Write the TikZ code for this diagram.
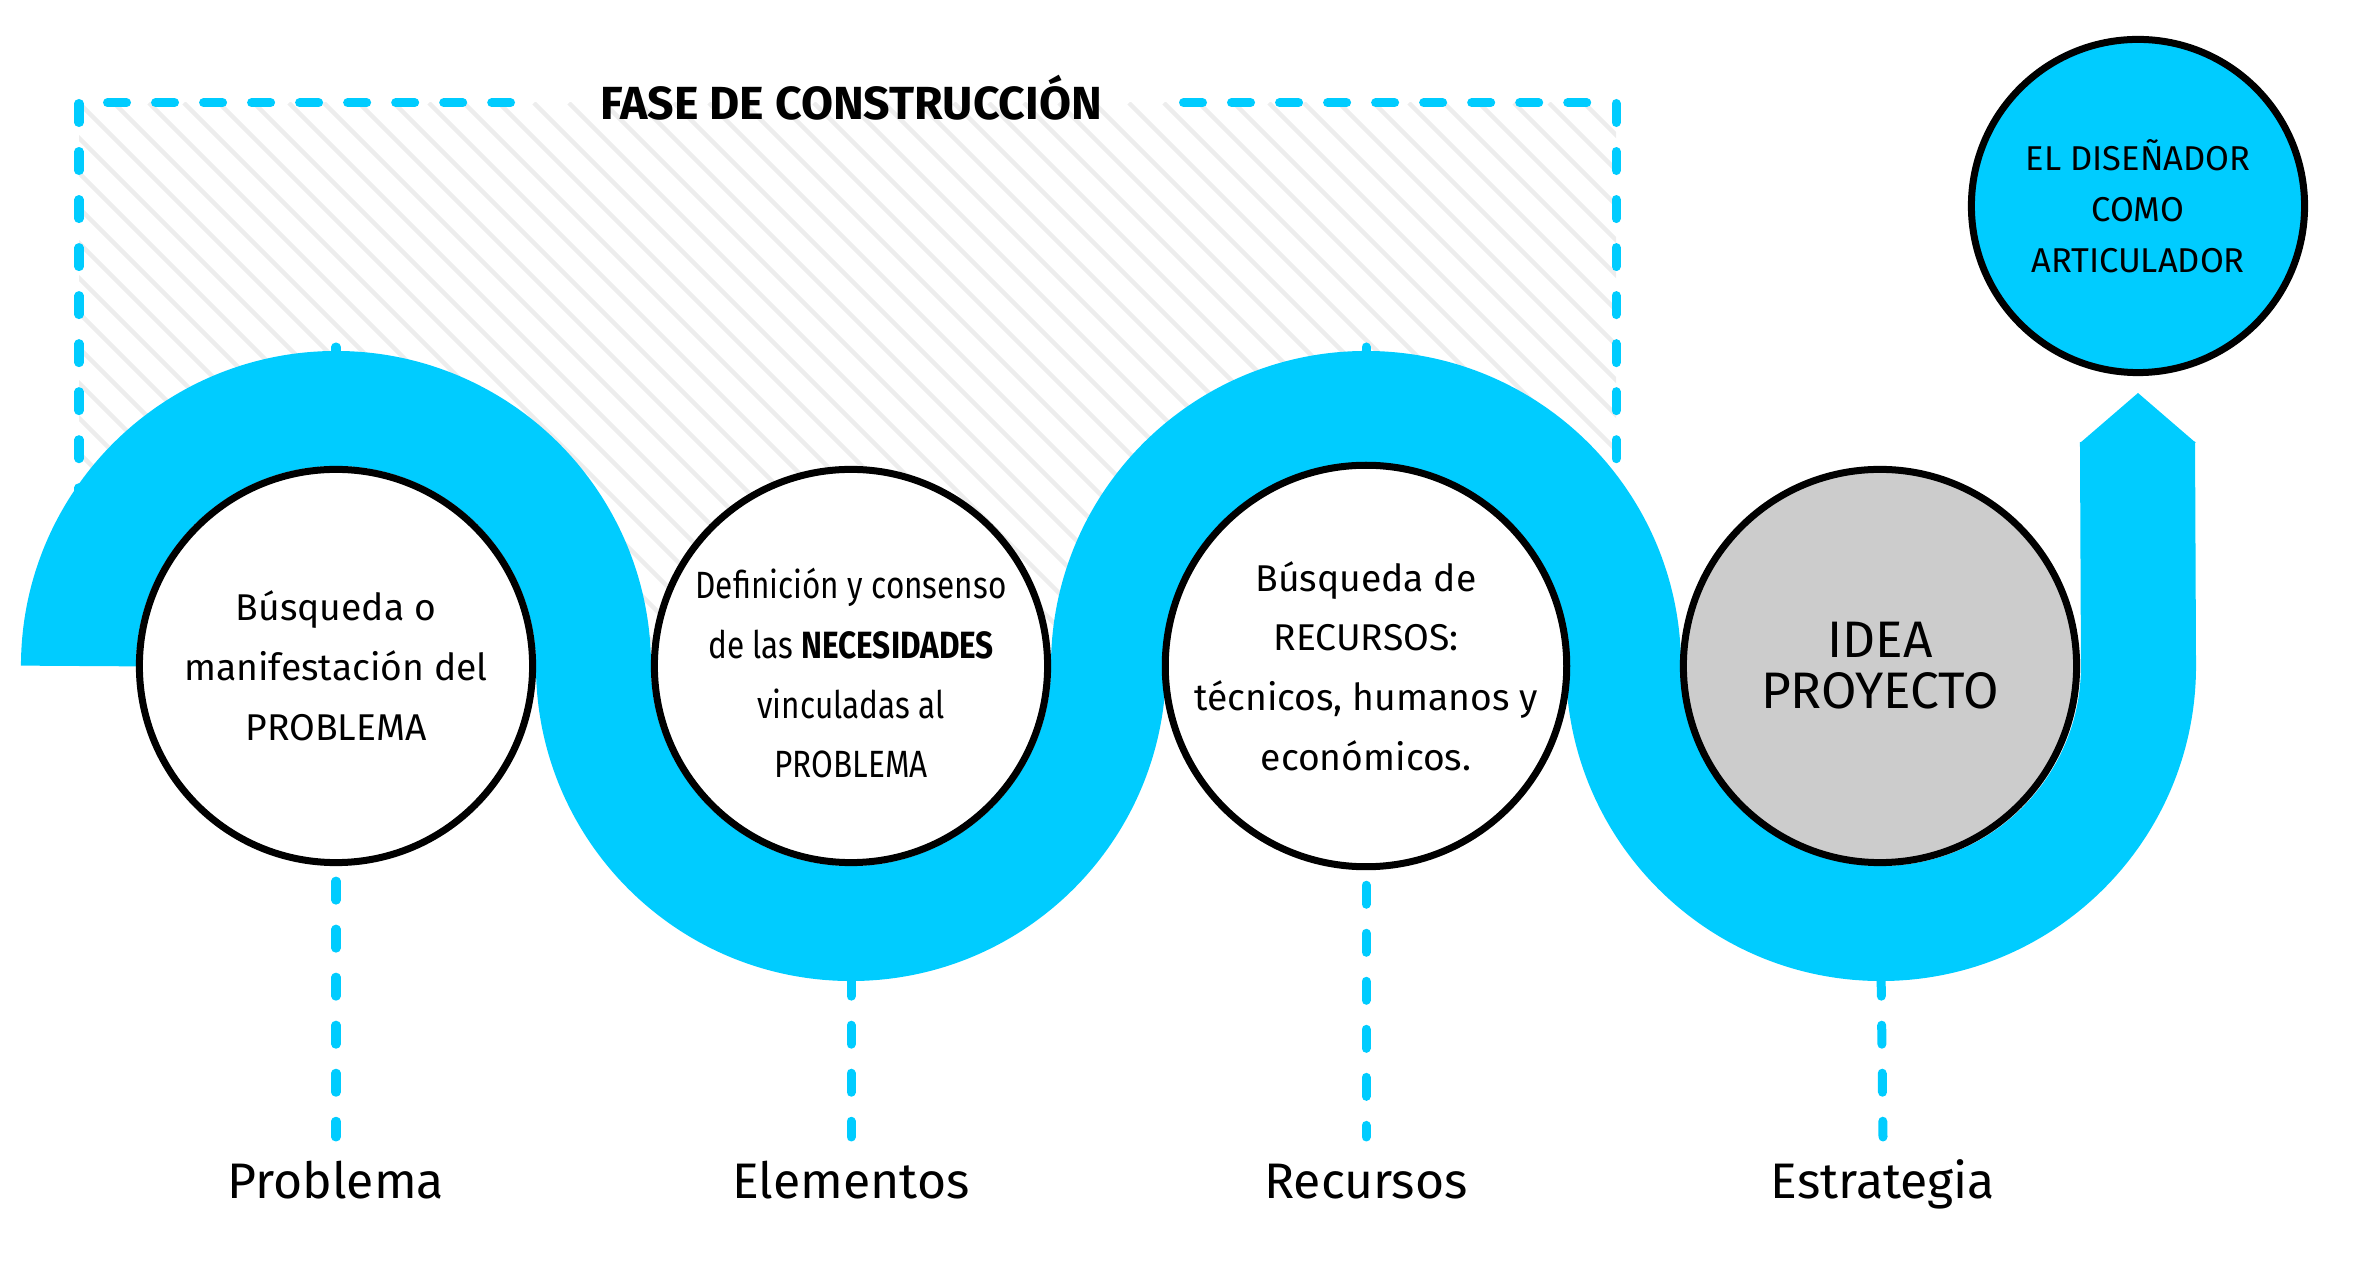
\documentclass[tikz,border=0pt]{standalone}
\usepackage{fontspec}
\setmainfont{Fira Sans}
\newfontfamily\narrowfont{Fira Sans}[FakeStretch=0.83]
\usepackage{tikz}
\usetikzlibrary{positioning,calc,backgrounds}
\definecolor{bandcyan}{HTML}{00CCFF}
\definecolor{ideagray}{HTML}{CCCCCC}
\definecolor{hatchgray}{HTML}{EDEDED}
\tikzset{
    every picture/.style={line join=round},
    stagecircle/.style={circle,draw=black,fill=white,line width=0.07cm,
      minimum size=3.93cm,inner sep=0pt,align=center,
      font=\fontsize{10.6}{17}\selectfont},
    dashline/.style={draw=bandcyan,line width=0.09cm,line cap=round,
      dash pattern=on 0.19cm off 0.29cm},
    bandline/.style={draw=bandcyan,line width=1.15cm,line cap=butt},
    hatchline/.style={draw=hatchgray,line width=0.045cm},
    steplabel/.style={anchor=base,font=\fontsize{14.2}{16}\selectfont}
}

\begin{document}
\begin{tikzpicture}[x=0.01cm,y=0.01cm]
  \useasboundingbox (0,0) rectangle (2362,1272);
  % stages along the band
  \node[stagecircle] (s1) at (336,606) {Búsqueda o\\manifestación del\\PROBLEMA};
  \node[stagecircle,font=\narrowfont\fontsize{10.8}{17}\selectfont] (s2) at (851,606)
    {\rule{0pt}{0.45cm}Definición y consenso\\de las \textbf{NECESIDADES}\\vinculadas al\\PROBLEMA};
  \node[stagecircle] (s3) at (1366,606) {Búsqueda de\\RECURSOS:\\técnicos, humanos y\\económicos.};
  \node[stagecircle,fill=ideagray,font=\fontsize{14.6}{14.5}\selectfont] (s4) at (1880,606)
    {IDEA\\PROYECTO};
  \node[stagecircle,fill=bandcyan,minimum size=3.33cm,
    font=\fontsize{9.8}{14.5}\selectfont] (disenador) at (2138,1066)
    {EL DISEÑADOR\\COMO\\ARTICULADOR};
  \node[anchor=base,font=\bfseries\fontsize{13.2}{15}\selectfont] (fase) at (851,1152)
    {FASE DE CONSTRUCCIÓN};
  \foreach \i/\x/\t in {1/336/Problema,2/851/Elementos,3/1366/Recursos,4/1883/Estrategia} {
    \node[steplabel] (l\i) at (\x,73) {\t};
    \coordinate (d\i) at (\x,135);
  }
  \begin{scope}[on background layer]
    % hatched area of the construction phase
    \begin{scope}
      \clip (79,606) rectangle (1616,1169);
      \foreach \k in {-17,...,44}
        \draw[hatchline] ({79+\k*35},1169) -- ++(600,-600);
    \end{scope}
    \draw[dashline] (79,1168.5) -- (79,752);
    \draw[dashline] (1616,1168.5) -- (1616,752);
    \draw[dashline] (107.5,1169.3) -- (510.5,1169.3);
    \draw[dashline] (1183.5,1169.3) -- (1587.5,1169.3);
    \foreach \i in {1,...,4}
      \draw[dashline] ([yshift=-0.15cm]s\i.south) -- (d\i);
    \draw[dashline] (336,925) -- (336,880);
    \draw[dashline] (1366,925) -- (1366,880);
    % the band
    \draw[bandline] (78.5,606) arc[start angle=180,end angle=0,radius=257.5]
      arc[start angle=180,end angle=360,radius=257.5]
      arc[start angle=180,end angle=0,radius=257.5]
      arc[start angle=180,end angle=360,radius=257.5] -- (2137.5,830);
    \fill[bandcyan] (2080,829) -- (2138,879) -- (2196,829) -- cycle;
  \end{scope}
\end{tikzpicture}
\end{document}
